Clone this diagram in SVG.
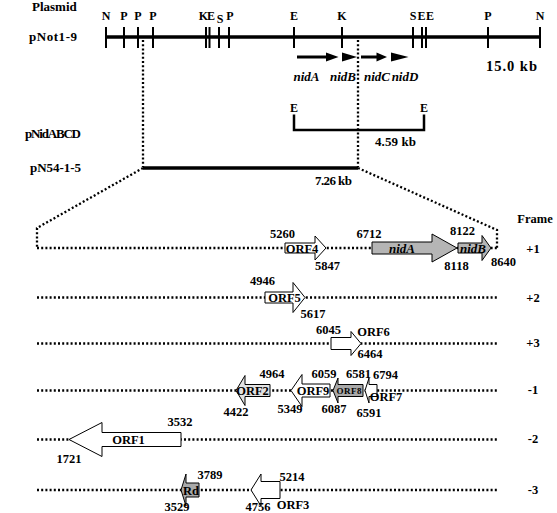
<svg xmlns="http://www.w3.org/2000/svg" width="557" height="513" viewBox="0 0 557 513">
<style>
text{font-family:"Liberation Serif","Times New Roman",serif;font-weight:bold;fill:#000}
.lab{font-size:13px}
.n{font-size:12.5px;text-anchor:middle}
.re{font-size:12px;text-anchor:middle}
.it{font-style:italic;font-size:13px;text-anchor:middle}
.fr{font-size:12.5px;text-anchor:middle}
.bar{stroke:#000;stroke-width:3.5;fill:none}
.tick{stroke:#000;stroke-width:2;fill:none}
.dot{stroke:#000;stroke-width:2.3;stroke-dasharray:2 2.2;fill:none}
.g{stroke:#000;stroke-width:1;fill:#fff}
.gr{stroke:#000;stroke-width:1;fill:#b5b5b5}
</style>
<rect width="557" height="513" fill="#fff"/>

<g id="plasmid-map">
<text class="lab" x="32" y="11">Plasmid</text>
<text class="lab" x="29" y="41" textLength="48">pNot1-9</text>
<line class="bar" x1="106" y1="37" x2="540" y2="37"/>
<g class="tick">
<line x1="106" y1="27" x2="106" y2="48"/>
<line x1="124" y1="27" x2="124" y2="48"/>
<line x1="138" y1="27" x2="138" y2="48"/>
<line x1="153" y1="27" x2="153" y2="48"/>
<line x1="206" y1="27" x2="206" y2="48"/>
<line x1="209.5" y1="27" x2="209.5" y2="48"/>
<line x1="219" y1="27" x2="219" y2="48"/>
<line x1="229" y1="27" x2="229" y2="48"/>
<line x1="294" y1="27" x2="294" y2="48"/>
<line x1="342" y1="27" x2="342" y2="48"/>
<line x1="413" y1="27" x2="413" y2="48"/>
<line x1="422" y1="27" x2="422" y2="48"/>
<line x1="426" y1="27" x2="426" y2="48"/>
<line x1="488" y1="27" x2="488" y2="48"/>
<line x1="540" y1="27" x2="540" y2="48"/>
</g>
<text class="re" x="106" y="20">N</text>
<text class="re" x="124" y="20">P</text>
<text class="re" x="138" y="20">P</text>
<text class="re" x="153" y="20">P</text>
<text class="re" x="203.5" y="20">K</text>
<text class="re" x="211" y="20">E</text>
<text class="re" x="220" y="23">S</text>
<text class="re" x="230" y="20">P</text>
<text class="re" x="294" y="20">E</text>
<text class="re" x="342" y="20">K</text>
<text class="re" x="413" y="20">S</text>
<text class="re" x="421.5" y="20">E</text>
<text class="re" x="430" y="20">E</text>
<text class="re" x="488" y="20">P</text>
<text class="re" x="540" y="20">N</text>
<text x="486" y="71" font-size="14.5" textLength="51">15.0 kb</text>
</g>

<g id="nid-genes">
<line x1="297" y1="57" x2="328" y2="57" stroke="#000" stroke-width="3"/>
<polygon points="326,52.5 338.5,57 326,61.5" fill="#000"/>
<polygon points="342,52.5 357,57 342,61.5" fill="#000"/>
<line x1="361" y1="57" x2="378" y2="57" stroke="#000" stroke-width="3"/>
<polygon points="376.5,52.5 387,57 376.5,61.5" fill="#000"/>
<polygon points="391,52.5 408.5,57 391,61.5" fill="#000"/>
<text class="it" x="306.5" y="81">nidA</text>
<text class="it" x="343" y="81">nidB</text>
<text class="it" x="377" y="81">nidC</text>
<text class="it" x="405" y="81">nidD</text>
</g>

<g id="pNidABCD">
<text class="lab" x="25" y="138" textLength="56">pNidABCD</text>
<path d="M294,114.5 V130 H424 V114.5" stroke="#000" stroke-width="2.5" fill="none"/>
<text class="re" x="294" y="112">E</text>
<text class="re" x="424" y="112">E</text>
<text class="lab" x="375" y="146" textLength="41">4.59 kb</text>
</g>

<g id="pN54-1-5">
<text class="lab" x="30" y="172" textLength="51">pN54-1-5</text>
<line class="bar" x1="143" y1="168" x2="358" y2="168"/>
<text class="lab" x="315" y="185" textLength="37">7.26 kb</text>
</g>

<g id="connectors">
<line class="dot" x1="143" y1="40" x2="143" y2="167"/>
<line class="dot" x1="358" y1="40" x2="358" y2="167"/>
<polyline class="dot" points="143,168 37,228 37,248"/>
<polyline class="dot" points="358,168 497,230 497,248"/>
<line class="dot" x1="37" y1="248" x2="497" y2="248"/>
<line class="dot" x1="37" y1="297.5" x2="497" y2="297.5"/>
<line class="dot" x1="37" y1="343.5" x2="497" y2="343.5"/>
<line class="dot" x1="37" y1="390.5" x2="497" y2="390.5"/>
<line class="dot" x1="37" y1="439.5" x2="497" y2="439.5"/>
<line class="dot" x1="37" y1="490" x2="497" y2="490"/>
</g>

<g id="frames">
<text class="fr" x="535" y="223">Frame</text>
<text class="fr" x="533" y="253">+1</text>
<text class="fr" x="533" y="302">+2</text>
<text class="fr" x="533" y="347">+3</text>
<text class="fr" x="533" y="394">-1</text>
<text class="fr" x="533" y="443">-2</text>
<text class="fr" x="533" y="494">-3</text>
</g>

<g id="ORF4">
<path class="g" d="M285,243 H315 V236 L326,248 L315,260 V253 H285 Z"/>
<text class="n" x="302" y="252.5">ORF4</text>
<text class="n" x="282.5" y="238">5260</text>
<text class="n" x="327.5" y="270">5847</text>
</g>

<g id="nidA">
<path class="gr" d="M372,242 H432 V234 L457,248 L432,262 V254 H372 Z"/>
<text class="it" x="402" y="252.5">nidA</text>
<text class="n" x="369" y="238">6712</text>
</g>

<g id="nidB">
<path class="gr" d="M458,243 H482 V235.5 L491,248 L482,260.5 V253 H458 Z"/>
<text class="it" x="473" y="252.5">nidB</text>
<text class="n" x="462.5" y="235">8122</text>
<text class="n" x="456.5" y="270">8118</text>
<text class="n" x="503.5" y="266">8640</text>
</g>

<g id="ORF5">
<path class="g" d="M265,292 H293 V282.5 L305,297.5 L293,312.5 V303 H265 Z"/>
<text class="n" x="284.5" y="302">ORF5</text>
<text class="n" x="262.5" y="285">4946</text>
<text class="n" x="313" y="318">5617</text>
</g>

<g id="ORF6">
<path class="g" d="M331,337.5 H351 V331.5 L361,343.5 L351,355.5 V349.5 H331 Z"/>
<text class="n" x="328.5" y="334">6045</text>
<text class="n" x="373.5" y="336">ORF6</text>
<text class="n" x="370" y="358">6464</text>
</g>

<g id="ORF2">
<path d="M236,390.5 L245,375.5 V384.5 H270 V396.5 H245 V405.5 Z" stroke="#000" stroke-width="1" fill="#e2e2e2"/>
<text class="n" x="252.5" y="395">ORF2</text>
<text class="n" x="272" y="378">4964</text>
<text class="n" x="236" y="416">4422</text>
</g>

<g id="ORF9">
<path class="g" d="M291,390.5 L302,374.5 V384 H330 V397 H302 V406.5 Z"/>
<text class="n" x="313" y="395">ORF9</text>
<text class="n" x="324" y="378">6059</text>
<text class="n" x="290" y="413">5349</text>
</g>

<g id="ORF8">
<path d="M333,390.5 L338,378 V384.5 H363 V396.5 H338 V403 Z" stroke="#000" stroke-width="1" fill="#a9a9a9"/>
<text x="349" y="393.5" font-size="9" text-anchor="middle" textLength="25">ORF8</text>
<text class="n" x="334" y="413">6087</text>
<text class="n" x="358.5" y="378">6581</text>
</g>

<g id="ORF7">
<path class="g" d="M365,390.5 L369,378 V384.5 H377 V396.5 H369 V403 Z"/>
<text class="n" x="385.5" y="379">6794</text>
<text class="n" x="386" y="401">ORF7</text>
<text class="n" x="369" y="417">6591</text>
</g>

<g id="ORF1">
<path class="g" d="M69,439.5 L102,422.5 V432.5 H181 V446.5 H102 V456.5 Z"/>
<text class="n" x="128.5" y="444">ORF1</text>
<text class="n" x="180" y="426">3532</text>
<text class="n" x="69" y="463">1721</text>
</g>

<g id="Rd">
<path d="M181,490 L186,474 V483 H199 V497 H186 V506 Z" stroke="#000" stroke-width="1" fill="#a9a9a9"/>
<text class="n" x="191" y="494.5">Rd</text>
<text class="n" x="210" y="479">3789</text>
<text class="n" x="177" y="510.5">3529</text>
</g>

<g id="ORF3">
<path class="g" d="M251,490 L261,474 V481.5 H280 V498.5 H261 V506 Z"/>
<text class="n" x="292" y="481">5214</text>
<text class="n" x="258" y="510.5">4756</text>
<text class="n" x="293" y="508.5">ORF3</text>
</g>
</svg>
